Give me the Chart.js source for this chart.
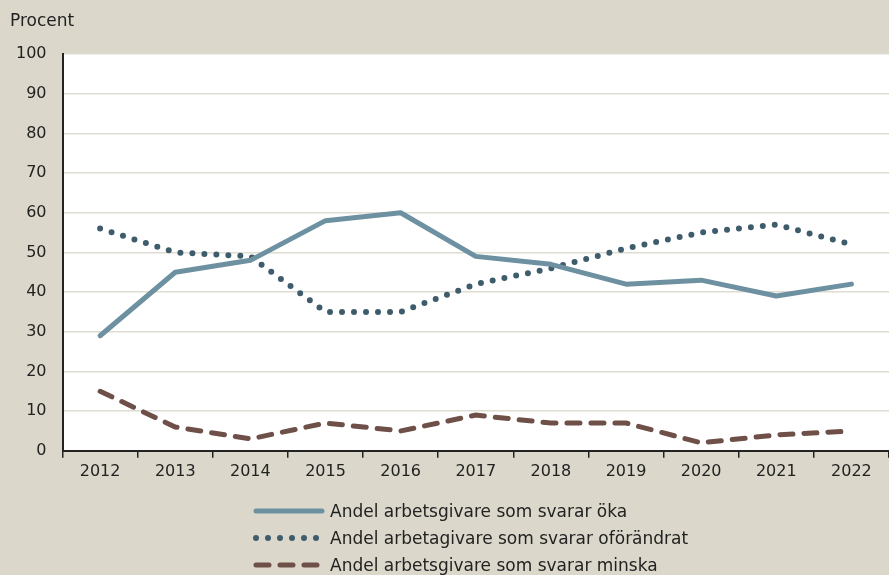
<!DOCTYPE html>
<html>
<head>
<meta charset="utf-8">
<script src="https://cdn.jsdelivr.net/npm/chart.js@4.4.1/dist/chart.umd.min.js"></script>
<style>
    body { margin: 0; background: #dbd8cb; font-family: "DejaVu Sans", sans-serif; }
    #wrap { position: relative; width: 889px; height: 575px; overflow: hidden; }
    #unit { position: absolute; left: 10px; top: 10px; font-size: 17px; color: #222; }
    #legend { position: absolute; left: 253px; top: 497px; font-size: 17px; color: #222; }
    .item { height: 27px; display: flex; align-items: center; }
    .item canvas { margin-right: 5px; }
</style>
</head>
<body>
<div id="wrap">
    <canvas id="chart" width="889" height="575"></canvas>
    <div id="unit">Procent</div>
    <div id="legend"></div>
</div>
<script>
// values
const years = ['2012', '2013', '2014', '2015', '2016', '2017', '2018', '2019', '2020', '2021', '2022'];
const oka = [29, 45, 48, 58, 60, 49, 47, 42, 43, 39, 42];
const oforandrat = [56, 50, 49, 35, 35, 42, 46, 51, 55, 57, 52];
const minska = [15, 6, 3, 7, 5, 9, 7, 7, 2, 4, 5];

const seriesNames = [
    'Andel arbetsgivare som svarar öka',
    'Andel arbetagivare som svarar oförändrat',
    'Andel arbetsgivare som svarar minska'
];

const plotBg = {
    id: 'plotBg',
    beforeDraw(chart) {
        const { ctx, chartArea: a } = chart;
        ctx.save();
        ctx.fillStyle = '#ffffff';
        ctx.fillRect(a.left, a.top, a.right - a.left, a.bottom - a.top);
        ctx.restore();
    }
};

const ctx = document.getElementById('chart').getContext('2d');

const chart = new Chart(ctx, {
    type: 'line',
    data: {
        labels: years,
        datasets: [{
            label: seriesNames[0],
            data: oka,
            borderColor: '#6d91a1',
            borderWidth: 5,
            borderCapStyle: 'round',
            borderJoinStyle: 'round'
        }, {
            label: seriesNames[1],
            data: oforandrat,
            borderColor: '#3e5c6b',
            borderWidth: 6,
            borderDash: [0, 12],
            borderCapStyle: 'round'
        }, {
            label: seriesNames[2],
            data: minska,
            borderColor: '#6e5049',
            borderWidth: 5,
            borderDash: [13, 11],
            borderCapStyle: 'round'
        }]
    },
    options: {
        responsive: false,
        animation: false,
        elements: { point: { radius: 0 }, line: { tension: 0 } },
        layout: { padding: { top: 54, right: 0, bottom: 90, left: 0 } },
        plugins: { legend: { display: false }, tooltip: { enabled: false } },
        scales: {
            x: {
                offset: true,
                border: { color: '#222', width: 2 },
                grid: { offset: true, drawOnChartArea: false, drawTicks: true, tickLength: 7, color: '#222', lineWidth: 1.5 },
                ticks: { color: '#222', font: { family: 'DejaVu Sans', size: 16 }, padding: 4, maxRotation: 0 }
            },
            y: {
                min: 0,
                max: 100,
                border: { color: '#222', width: 2 },
                grid: { color: '#dfdcd1', lineWidth: 1.5, drawTicks: false },
                ticks: { stepSize: 10, color: '#222', font: { family: 'DejaVu Sans', size: 16 }, padding: 16 }
            }
        }
    },
    plugins: [plotBg]
});

// legend built from the datasets
const legend = document.getElementById('legend');
chart.data.datasets.forEach(ds => {
    const item = document.createElement('div');
    item.className = 'item';
    const c = document.createElement('canvas');
    c.width = 72; c.height = 10;
    const g = c.getContext('2d');
    g.strokeStyle = ds.borderColor;
    g.lineWidth = ds.borderWidth;
    g.lineCap = 'round';
    g.setLineDash(ds.borderDash || []);
    g.beginPath();
    g.moveTo(3, 5);
    g.lineTo(69, 5);
    g.stroke();
    item.appendChild(c);
    const span = document.createElement('span');
    span.textContent = ds.label;
    item.appendChild(span);
    legend.appendChild(item);
});
</script>
</body>
</html>
